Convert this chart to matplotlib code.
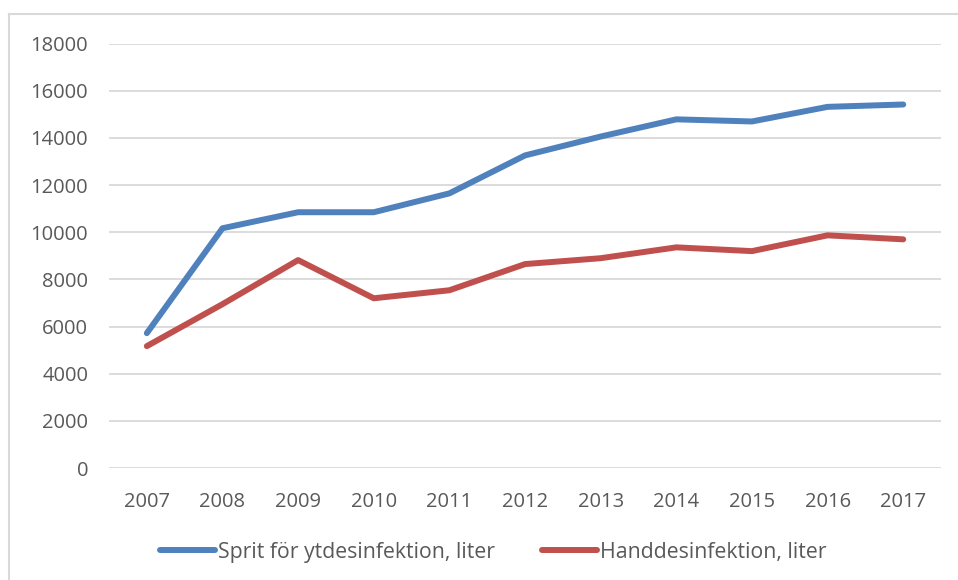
import matplotlib.pyplot as plt
from matplotlib.lines import Line2D

years = ["2007", "2008", "2009", "2010", "2011", "2012", "2013", "2014", "2015", "2016", "2017"]
sprit = [5720, 10170, 10850, 10850, 11650, 13260, 14060, 14790, 14700, 15320, 15420]
hand = [5170, 6950, 8820, 7200, 7540, 8650, 8900, 9360, 9200, 9870, 9700]

plt.rcParams["font.family"] = ["Open Sans", "DejaVu Sans"]
text_color = "#595959"

fig = plt.figure(figsize=(9.58, 5.80), dpi=100)
ax = fig.add_axes([0.1138, 0.1931, 0.8685, 0.7316])

x = range(len(years))
ax.plot(x, sprit, color="#4F81BD", lw=4.3, solid_capstyle="round",
        solid_joinstyle="round", label="Sprit för ytdesinfektion, liter")
ax.plot(x, hand, color="#C0504D", lw=4.3, solid_capstyle="round",
        solid_joinstyle="round", label="Handdesinfektion, liter")

ax.set_xlim(-0.5, len(years) - 0.5)
ax.set_ylim(0, 18000)
ax.set_yticks(range(0, 18001, 2000))
ax.set_xticks(list(x))
ax.set_xticklabels(years)
ax.grid(axis="y", color="#D9D9D9", lw=1.3)
ax.set_axisbelow(True)
for s in ax.spines.values():
    s.set_visible(False)
ax.tick_params(length=0, labelsize=14.5, colors=text_color)
ax.tick_params(axis="y", pad=15)
ax.tick_params(axis="x", pad=17)

fig.legend(loc="center", bbox_to_anchor=(0.515, 0.048), ncol=2, frameon=False,
           fontsize=15.3, labelcolor=text_color, handlelength=2.6,
           handletextpad=0.15, columnspacing=2.2)

# chart area border (left and top edges visible)
fig.add_artist(Line2D([9 / 958, 9 / 958], [0, 1 - 14 / 580], color="#D9D9D9", lw=1.5))
fig.add_artist(Line2D([9 / 958, 1], [1 - 14 / 580, 1 - 14 / 580], color="#D9D9D9", lw=1.5))

fig.savefig("out.png", dpi=100)
